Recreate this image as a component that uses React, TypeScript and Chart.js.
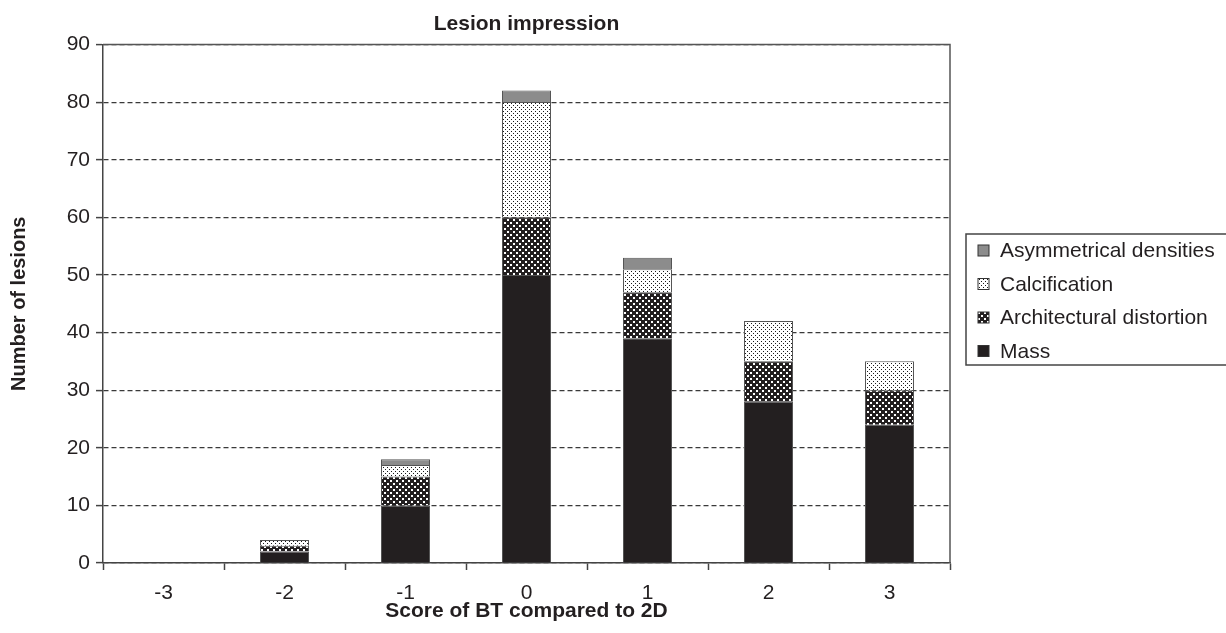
import React, { useEffect, useRef } from 'react';
import { Chart, registerables } from 'chart.js';

Chart.register(...registerables);

const categories = ['-3', '-2', '-1', '0', '1', '2', '3'];
const massValues = [0, 2, 10, 50, 39, 28, 24];
const archValues = [0, 1, 5, 10, 8, 7, 6];
const calcValues = [0, 1, 2, 20, 4, 7, 5];
const asymValues = [0, 0, 1, 2, 2, 0, 0];
const seriesLabels = ['Mass', 'Architectural distortion', 'Calcification', 'Asymmetrical densities'];
const yMin = 0;
const yMax = 90;
const yStep = 10;

const FONT = "'Liberation Sans', Arial, Helvetica, sans-serif";
const INK = '#231f20';

function makePattern(kind: 'dots' | 'checker'): CanvasPattern | string {
  const tile = document.createElement('canvas');
  const size = kind === 'dots' ? 4 : 6;
  tile.width = size;
  tile.height = size;
  const c = tile.getContext('2d');
  if (!c) return '#888';
  if (kind === 'dots') {
    c.fillStyle = '#ffffff';
    c.fillRect(0, 0, size, size);
    c.fillStyle = '#1a1a1a';
    c.fillRect(1, 1, 1, 1);
    c.fillRect(3, 3, 1, 1);
  } else {
    c.fillStyle = INK;
    c.fillRect(0, 0, size, size);
    c.fillStyle = '#ffffff';
    c.fillRect(0, 0, 2, 2);
    c.fillRect(3, 3, 2, 2);
  }
  const main = document.createElement('canvas').getContext('2d');
  const p = main ? main.createPattern(tile, 'repeat') : null;
  return p || '#888';
}

const plotBoxPlugin = {
  id: 'plotBox',
  afterDraw(chart: any) {
    const { ctx, chartArea } = chart;
    ctx.save();
    ctx.strokeStyle = '#555';
    ctx.lineWidth = 1.5;
    ctx.beginPath();
    ctx.moveTo(chartArea.left, chartArea.top);
    ctx.lineTo(chartArea.right, chartArea.top);
    ctx.lineTo(chartArea.right, chartArea.bottom);
    ctx.stroke();
    ctx.restore();
  },
};

const customLegendPlugin = {
  id: 'customLegend',
  afterDraw(chart: any) {
    const { ctx, chartArea } = chart;
    const boxLeft = chartArea.right + 16;
    const boxTop = 234;
    const rowGap = 33.5;
    const items = chart.data.datasets.slice().reverse();
    const boxHeight = 131;
    ctx.save();
    ctx.strokeStyle = '#444';
    ctx.lineWidth = 1.5;
    ctx.strokeRect(boxLeft, boxTop, 400, boxHeight);
    ctx.font = `21px ${FONT}`;
    ctx.textBaseline = 'middle';
    ctx.textAlign = 'left';
    items.forEach((ds: any, i: number) => {
      const cy = boxTop + 16.5 + i * rowGap;
      const sx = boxLeft + 12;
      ctx.fillStyle = ds.backgroundColor;
      ctx.fillRect(sx, cy - 5.5, 11, 11);
      ctx.strokeStyle = '#333';
      ctx.lineWidth = 1;
      ctx.strokeRect(sx, cy - 5.5, 11, 11);
      ctx.fillStyle = INK;
      ctx.fillText(ds.label, boxLeft + 34, cy + 1);
    });
    ctx.restore();
  },
};

export default function App() {
  const ref = useRef<HTMLCanvasElement | null>(null);

  useEffect(() => {
    if (!ref.current) return;
    const calcPattern = makePattern('dots');
    const archPattern = makePattern('checker');
    const colors = [INK, archPattern, calcPattern, '#8c8c8c'];
    const values = [massValues, archValues, calcValues, asymValues];

    const chart = new Chart(ref.current, {
      type: 'bar',
      data: {
        labels: categories,
        datasets: seriesLabels.map((label, i) => ({
          label,
          data: values[i],
          backgroundColor: colors[i] as any,
          borderColor: '#555',
          borderWidth: 1,
          barPercentage: 0.405,
          categoryPercentage: 1,
        })),
      },
      options: {
        animation: false,
        responsive: false,
        devicePixelRatio: 1,
        layout: { padding: { left: 0, right: 276, top: 0, bottom: 0 } },
        plugins: {
          legend: { display: false },
          tooltip: { enabled: false },
          title: {
            display: true,
            text: 'Lesion impression',
            fullSize: false,
            color: INK,
            font: { family: FONT, size: 21, weight: 'bold' },
            padding: { top: 11.4, bottom: 7.9 },
          },
        },
        scales: {
          x: {
            stacked: true,
            offset: true,
            afterFit: (scale: any) => {
              scale.height = 70;
            },
            grid: {
              display: true,
              offset: true,
              drawOnChartArea: false,
              drawTicks: true,
              tickLength: 7,
              tickColor: '#444',
              tickWidth: 1.5,
            },
            border: { display: true, color: '#444', width: 1.5 },
            ticks: {
              color: INK,
              font: { family: FONT, size: 21 },
              padding: 11,
            },
            title: {
              display: true,
              text: 'Score of BT compared to 2D',
              color: INK,
              font: { family: FONT, size: 21, weight: 'bold' },
              padding: { top: 0, bottom: 9.4 },
            },
          },
          y: {
            stacked: true,
            min: yMin,
            max: yMax,
            afterFit: (scale: any) => {
              scale.width = 103;
            },
            grid: {
              display: true,
              color: '#3a3a3a',
              lineWidth: 1.2,
              drawTicks: true,
              tickLength: 7,
              tickColor: '#444',
              tickWidth: 1.5,
              tickBorderDash: [],
            },
            border: { display: true, color: '#444', width: 1.5, dash: [5, 3] },
            ticks: {
              stepSize: yStep,
              color: INK,
              font: { family: FONT, size: 21 },
              padding: 6,
            },
            title: {
              display: true,
              text: 'Number of lesions',
              color: INK,
              font: { family: FONT, size: 20, weight: 'bold' },
              padding: { top: 7, bottom: 0 },
            },
          },
        },
      },
      plugins: [plotBoxPlugin, customLegendPlugin],
    });

    return () => {
      chart.destroy();
    };
  }, []);

  return (
    <div style={{ position: 'absolute', left: 0, top: 0, width: 1226, height: 633, background: '#fff' }}>
      <canvas ref={ref} width={1226} height={633} style={{ display: 'block' }} />
    </div>
  );
}
